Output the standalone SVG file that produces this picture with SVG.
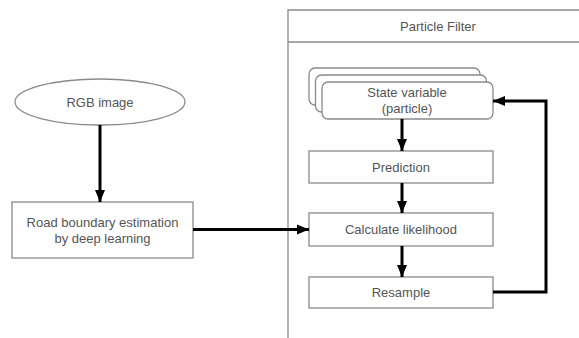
<svg xmlns="http://www.w3.org/2000/svg" width="579" height="338" viewBox="0 0 579 338">
<defs>
<style>
.box{fill:#fff;stroke:#8a8a8a;stroke-width:1.3}
.frame{fill:none;stroke:#8a8a8a;stroke-width:1.3}
.t{font-family:"Liberation Sans",Arial,sans-serif;font-size:13px;fill:#555;text-anchor:middle;dominant-baseline:central}
.c{fill:none;stroke:#000;stroke-width:3}
</style>
<marker id="ah" markerUnits="userSpaceOnUse" markerWidth="12" markerHeight="12" viewBox="0 0 12 12" refX="12" refY="6" orient="auto">
<path d="M0,1 L12,6 L0,11 Z" fill="#000"/>
</marker>
</defs>
<rect width="579" height="338" fill="#fff"/>
<g id="pf-frame">
<path class="frame" d="M288,338 V10 H580 M288,42 H580"/>
<text class="t" x="438" y="26">Particle Filter</text>
</g>
<g id="rgb">
<ellipse class="box" cx="100" cy="102" rx="85" ry="23"/>
<text class="t" x="100" y="102">RGB image</text>
</g>
<g id="road">
<rect class="box" x="12" y="202" width="181" height="56"/>
<text class="t" x="102.5" y="222">Road boundary estimation</text>
<text class="t" x="102.5" y="238">by deep learning</text>
</g>
<g id="state">
<rect class="box" x="309" y="68" width="171" height="37" rx="6"/>
<rect class="box" x="315.5" y="75" width="171" height="37" rx="6"/>
<rect class="box" x="322" y="82" width="171" height="37" rx="6"/>
<text class="t" x="407" y="92">State variable</text>
<text class="t" x="407" y="108">(particle)</text>
</g>
<g id="prediction">
<rect class="box" x="309" y="151" width="184" height="32"/>
<text class="t" x="401" y="167">Prediction</text>
</g>
<g id="likelihood">
<rect class="box" x="309" y="213" width="184" height="33"/>
<text class="t" x="401" y="229.5">Calculate likelihood</text>
</g>
<g id="resample">
<rect class="box" x="309" y="277" width="184" height="31"/>
<text class="t" x="401" y="292.5">Resample</text>
</g>
<g id="connectors">
<path class="c" d="M100,125 V202" marker-end="url(#ah)"/>
<path class="c" d="M193,229.5 H309" marker-end="url(#ah)"/>
<path class="c" d="M402,119 V151" marker-end="url(#ah)"/>
<path class="c" d="M402,183 V213" marker-end="url(#ah)"/>
<path class="c" d="M402,246 V277" marker-end="url(#ah)"/>
<path class="c" d="M493,292 H546 V101 H493" marker-end="url(#ah)"/>
</g>
</svg>
